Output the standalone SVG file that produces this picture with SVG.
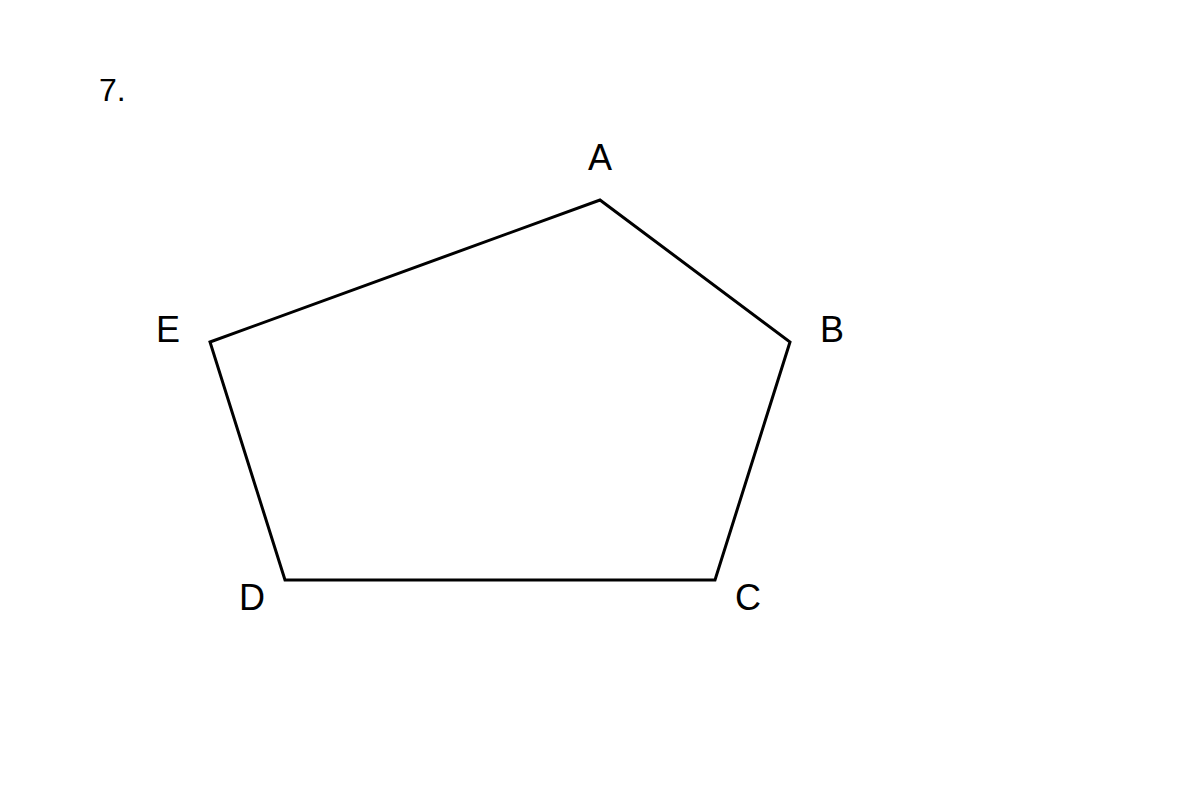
<svg xmlns="http://www.w3.org/2000/svg" width="1200" height="800" viewBox="0 0 1200 800">
<style>
.lbl{font-family:"Liberation Sans",Arial,sans-serif;font-size:36px;fill:#000;text-anchor:middle}
.num{font-family:"Liberation Sans",Arial,sans-serif;font-size:32px;fill:#000}
.edge{fill:none;stroke:#000;stroke-width:3;stroke-linejoin:miter}
</style>
<rect width="1200" height="800" fill="#fff"/>
<text class="num" x="99" y="101">7.</text>
<g id="connectors">
<polygon class="edge" points="600,200 790,342 715,580 285,580 210,342"/>
</g>
<g id="A"><text class="lbl" x="600" y="170">A</text></g>
<g id="B"><text class="lbl" x="832" y="342">B</text></g>
<g id="C"><text class="lbl" x="748" y="610">C</text></g>
<g id="D"><text class="lbl" x="252" y="610">D</text></g>
<g id="E"><text class="lbl" x="168" y="342">E</text></g>
</svg>
